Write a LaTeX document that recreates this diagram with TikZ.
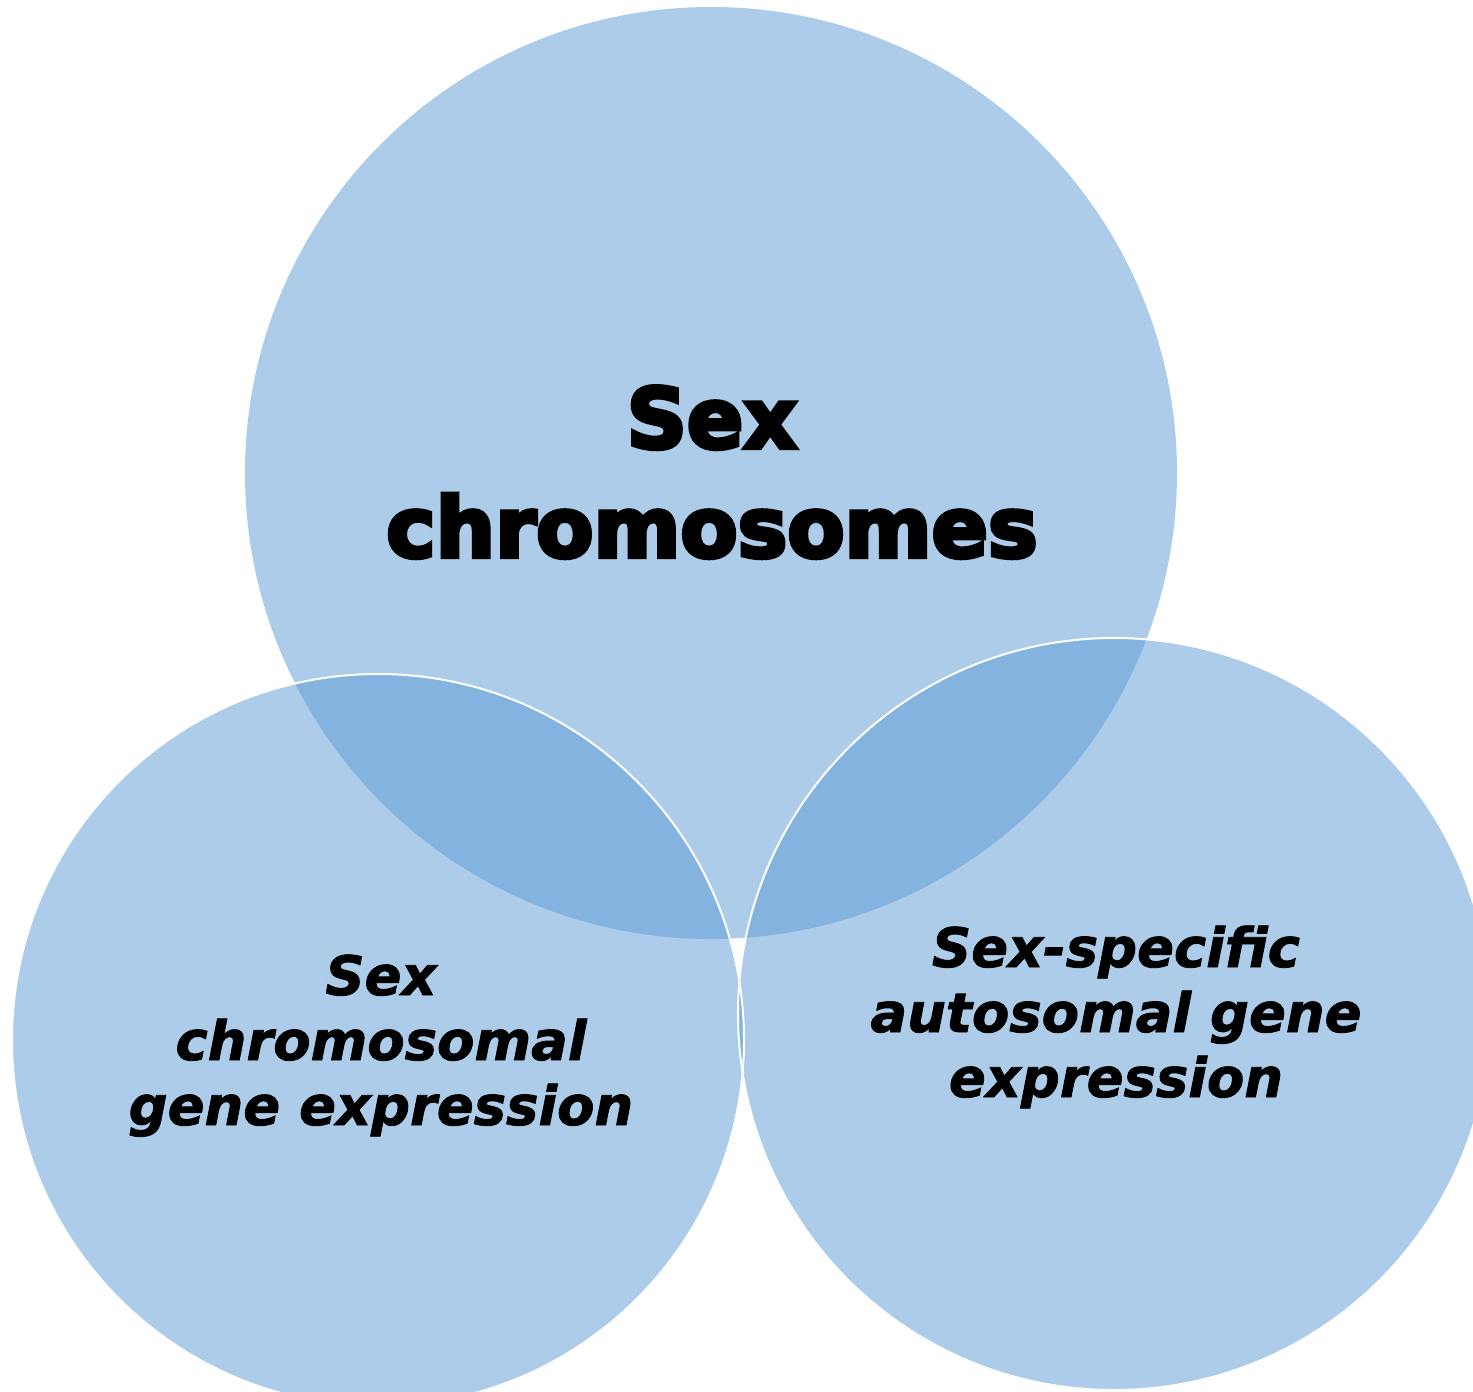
\documentclass[tikz,border=0pt]{standalone}
\usepackage{fontspec}
\newfontfamily\topfont{DejaVu Sans Bold}[FakeBold=5]
\newfontfamily\itfont{DejaVu Sans Bold Oblique}[FakeBold=1.5]
\definecolor{vennblue}{RGB}{91,155,213}
\begin{document}
\begin{tikzpicture}[x=0.5pt,y=-0.5pt,
  venn/.style={circle, fill=vennblue, fill opacity=0.5, draw=none, inner sep=0pt},
  vennline/.style={draw=white, line width=1pt},
  toptext/.style={anchor=base, align=center, text=black, inner sep=0pt,
    font=\topfont\fontsize{41.7}{54.5}\selectfont},
  ittext/.style={anchor=base, align=center, text=black, inner sep=0pt,
    font=\itfont\fontsize{27.2}{32.5}\selectfont}]
\useasboundingbox (0,0) rectangle (1473,1392);
\fill[white] (0,0) rectangle (1473,1392);
\clip (0,0) rectangle (1473,1392);
\node[venn, minimum size=466pt] (top) at (711,473) {};
\node[venn, minimum size=366pt] (left) at (378,1040) {};
\node[venn, minimum size=376pt] (right) at (1114,1014) {};
\draw[vennline] (left.center) circle[radius=366];
\draw[vennline] (right.center) circle[radius=376];
\node[toptext] (toplabel) at (712,557) {Sex\\chromosomes};
\node[ittext] (leftlabel) at (381,1125) {Sex\\chromosomal\\gene expression};
\node[ittext] (rightlabel) at (1116,1097) {Sex-specific\\autosomal gene\\expression};
\end{tikzpicture}
\end{document}
